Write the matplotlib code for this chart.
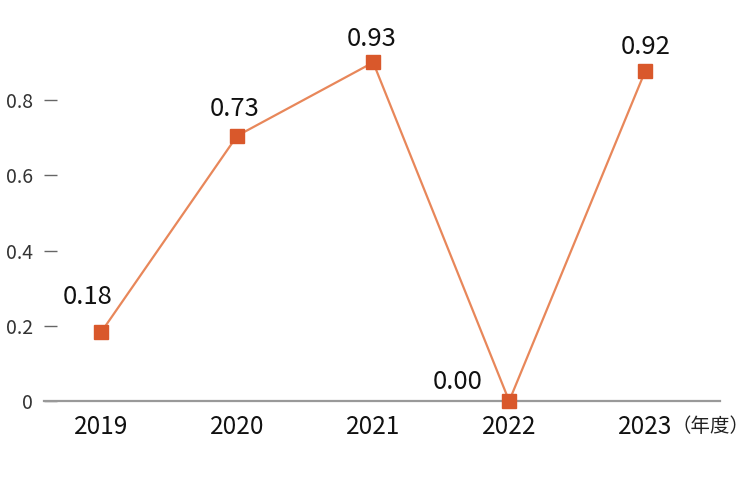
import matplotlib
matplotlib.use("Agg")
import matplotlib.pyplot as plt
from matplotlib.transforms import blended_transform_factory

plt.rcParams['font.family'] = ['Noto Sans CJK JP', 'DejaVu Sans']

# data
years = ['2019', '2020', '2021', '2022', '2023']
values = [0.183, 0.705, 0.90, 0.0, 0.877]
labels = ['0.18', '0.73', '0.93', '0.00', '0.92']
label_offsets = [(-10, 25), (-2, 19), (-1, 17), (-37, 14), (0, 17)]
yticks = [0, 0.2, 0.4, 0.6, 0.8]
ytick_labels = ['0', '0.2', '0.4', '0.6', '0.8']

fig = plt.figure(figsize=(7.5, 5), dpi=100)
ax = fig.add_axes([0.0587, 0.198, 0.9013, 0.802])

x = range(len(years))
ax.plot(x, values, color='#E8875A', linewidth=1.6, zorder=2, clip_on=False)
ax.plot(x, values, linestyle='none', marker='s', markersize=9.5,
        color='#D9582B', zorder=3, clip_on=False)

for xi, v, lab, off in zip(x, values, labels, label_offsets):
    ax.annotate(lab, (xi, v), xytext=off, textcoords='offset points',
                ha='center', va='center', fontsize=18.5, color='#111111')

ax.set_xlim(-0.42, 4.55)
ax.set_ylim(0, 1.066)
ax.set_xticks(list(x))
ax.set_xticklabels(years, fontsize=17.5, color='#111111')
ax.set_yticks(yticks)
ax.set_yticklabels(ytick_labels, fontsize=14, color='#333333')

ax.tick_params(axis='x', length=0, pad=9)
ax.tick_params(axis='y', direction='in', length=9, width=1, color='#666666', pad=8)

for s in ['top', 'right', 'left']:
    ax.spines[s].set_visible(False)
ax.spines['bottom'].set_color('#999999')
ax.spines['bottom'].set_linewidth(1.6)

# unit label, right-aligned to the figure edge
trans = blended_transform_factory(fig.transFigure, ax.transData)
ax.text(0.999, -0.068, '（年度）', fontsize=14, color='#222222',
        ha='right', va='center', clip_on=False, transform=trans)

fig.savefig('out.png', dpi=100)
